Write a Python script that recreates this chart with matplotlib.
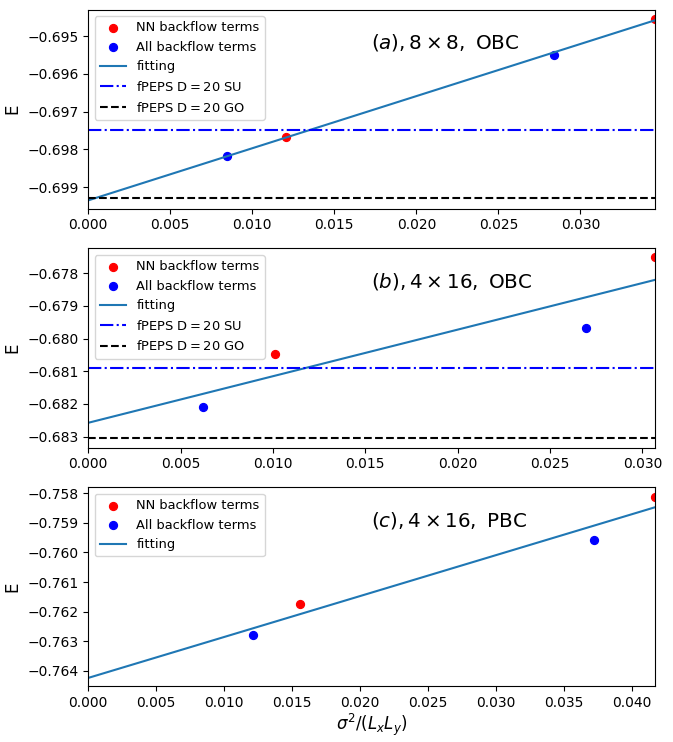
import numpy as np
import matplotlib
matplotlib.use("Agg")
import matplotlib.pyplot as plt

# panel (a): 8x8 OBC
a_nn_x = [0.01207, 0.03453]
a_nn_e = [-0.69768, -0.69454]
a_all_x = [0.00848, 0.02837]
a_all_e = [-0.69817, -0.69549]
a_su = -0.69750
a_go = -0.69930

# panel (b): 4x16 OBC
b_nn_x = [0.0101, 0.03067]
b_nn_e = [-0.68048, -0.67752]
b_all_x = [0.00622, 0.02693]
b_all_e = [-0.68210, -0.67968]
b_su = -0.68090
b_go = -0.68303

# panel (c): 4x16 PBC
c_nn_x = [0.01558, 0.04167]
c_nn_e = [-0.76173, -0.75811]
c_all_x = [0.01211, 0.03721]
c_all_e = [-0.76280, -0.75957]

titles = [r'$(a), 8\times8,\ \mathrm{OBC}$',
          r'$(b), 4\times16,\ \mathrm{OBC}$',
          r'$(c), 4\times16,\ \mathrm{PBC}$']
ylims = [(-0.69957, -0.69430), (-0.68333, -0.67725), (-0.76452, -0.75780)]

panels = [
    (a_nn_x, a_nn_e, a_all_x, a_all_e, a_su, a_go),
    (b_nn_x, b_nn_e, b_all_x, b_all_e, b_su, b_go),
    (c_nn_x, c_nn_e, c_all_x, c_all_e, None, None),
]

fig, axes = plt.subplots(3, 1, figsize=(6.73, 7.42), dpi=100)
fig.subplots_adjust(left=0.131, right=0.973, top=0.987, bottom=0.075, hspace=0.2)

for i, (ax, p) in enumerate(zip(axes, panels)):
    nn_x, nn_e, all_x, all_e, su, go = p
    ax.scatter(nn_x, nn_e, color='red', s=32, label='NN backflow terms')
    ax.scatter(all_x, all_e, color='blue', s=32, label='All backflow terms')
    xs = np.array(nn_x + all_x)
    es = np.array(nn_e + all_e)
    # linear fit through all four points
    k, b = np.polyfit(xs, es, 1)
    xmax = xs.max()
    xx = np.array([0, xmax])
    ax.plot(xx, k * xx + b, color='C0', label='fitting')
    if su is not None:
        ax.axhline(su, color='blue', linestyle='-.', label=r'fPEPS $\mathrm{D=20}$ SU')
        ax.axhline(go, color='black', linestyle='--', label=r'fPEPS $\mathrm{D=20}$ GO')
    ax.set_xlim(0, xmax)
    ax.set_ylim(*ylims[i])
    ax.set_ylabel('E', fontsize=12)
    ax.text(0.5, 0.835, titles[i], transform=ax.transAxes, fontsize=14.3,
            ha='left', va='center')
    ax.legend(loc='upper left', fontsize=9.4)

axes[2].set_xlabel(r'$\sigma^2/(L_xL_y)$', fontsize=12, labelpad=1)

fig.savefig('out.png', dpi=100)
